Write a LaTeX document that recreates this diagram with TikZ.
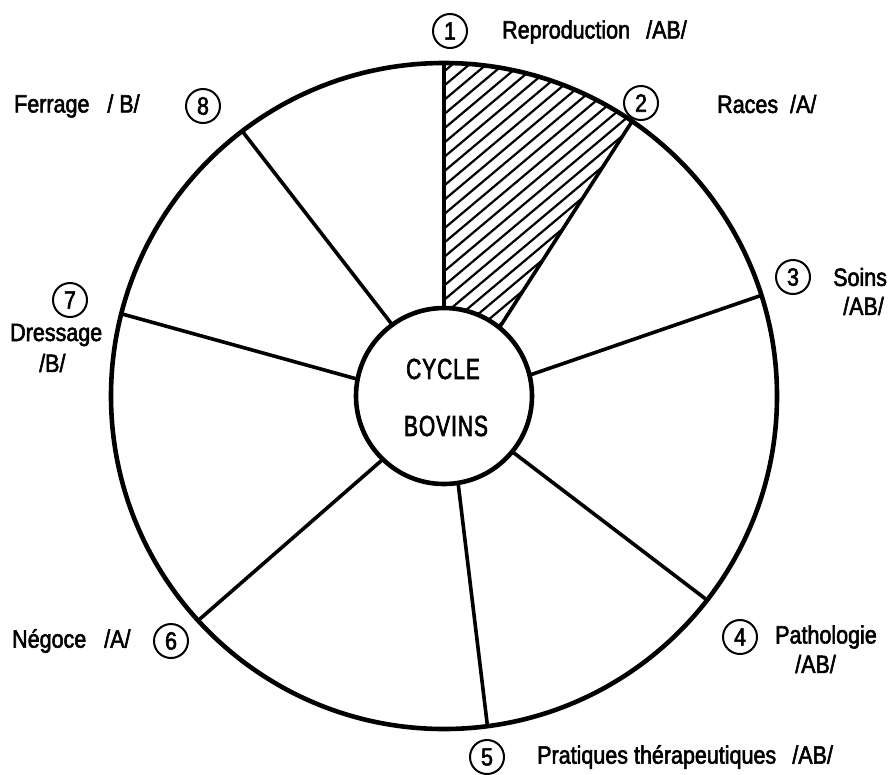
\documentclass[tikz,border=0pt]{standalone}
\usepackage{fontspec}
\setmainfont{Liberation Sans}[FakeStretch=0.86,FakeBold=2.2]
\newfontfamily\hubfont{Liberation Sans}[FakeStretch=0.72,FakeBold=2.2]
\usetikzlibrary{calc}
\begin{document}
\begin{tikzpicture}[x=1pt,y=-1pt,
  lbl/.style={font=\fontsize{25}{27}\selectfont, inner sep=0pt, anchor=west},
  num/.style={draw, circle, line width=2pt, minimum size=34pt, inner sep=0pt, font=\fontsize{25}{25}\selectfont},
  ring/.style={line width=4.6pt},
  spoke/.style={line width=3.6pt},
  hubtxt/.style={font=\hubfont\fontsize{29}{30}\selectfont}]
\useasboundingbox (0,0) rectangle (893,774);
\fill[white] (0,0) rectangle (893,774);
\coordinate (c) at (444,396);
% hatching of sector 1
\begin{scope}
  \clip ($(c)+(-90:88)$) -- ($(c)+(-90:333)$) arc[start angle=-90, end angle=-55.6, radius=333] -- ($(c)+(-51:88)$) arc[start angle=-51, end angle=-90, radius=88] -- cycle;
  \foreach \k in {-25,...,25} {
    \draw[line width=2.2pt] (444+17*\k-300, 200+252) -- (444+17*\k+300, 200-252);
  }
\end{scope}
% outer and inner circles
\draw[ring] (c) circle[radius=333];
\node[draw, circle, ring, minimum size=176pt, inner sep=0pt] (hub) at (c) {};
\node[hubtxt] (t1) at (443,369) {C\kern1pt Y\kern1pt C\kern1pt L\kern1pt E};
\node[hubtxt] (t2) at (446,426) {B\kern1pt O\kern1pt V\kern1pt I\kern1pt N\kern1pt S};
% spokes
\foreach \a/\b [count=\i] in {-90/-90, -51/-55.6, -13.7/-17.6, 39.2/37.8, 80.8/82.5, 134/137.6, -169/-165.7, -126/-127.3} {
  \coordinate (in\i) at ($(c)+(\a:88)$);
  \coordinate (out\i) at ($(c)+(\b:333)$);
  \draw[spoke] (in\i) -- (out\i);
}
% labels
\node[num] (n1) at (450,31) {1};
\node[lbl] (l1) at (502,32) {Reproduction \ \,/AB/};
\node[num] (n2) at (641,103) {2};
\node[lbl] (l2) at (717,104) {Races \ /A/};
\node[num] (n3) at (793,277) {3};
\node[lbl] (l3) at (833,277) {Soins};
\node[lbl] (l3b) at (843,306) {/AB/};
\node[num] (n4) at (740,637) {4};
\node[lbl] (l4) at (775,637) {Pathologie};
\node[lbl] (l4b) at (795,664) {/AB/};
\node[num] (n5) at (487,757) {5};
\node[lbl] (l5) at (537,757) {Pratiques thérapeutiques \ \,/AB/};
\node[num] (n6) at (171,641) {6};
\node[lbl] (l6) at (12,641) {Négoce \ \ /A/};
\node[num] (n7) at (70,300) {7};
\node[lbl] (l7) at (10,335) {Dressage};
\node[lbl] (l7b) at (39,363) {/B/};
\node[num] (n8) at (203,106) {8};
\node[lbl] (l8) at (14,106) {Ferrage \ \ / B/};
\end{tikzpicture}
\end{document}
